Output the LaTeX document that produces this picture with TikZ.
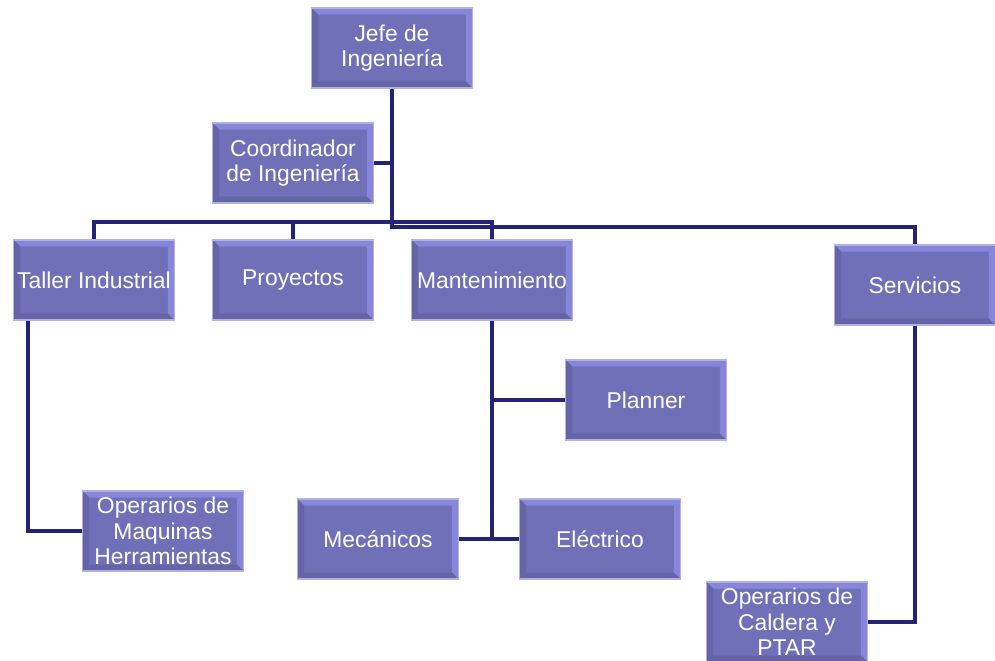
\documentclass[tikz,border=0pt]{standalone}
\usepackage{fontspec}
\setmainfont{Liberation Sans}
\usepackage{tikz}
\definecolor{boxfill}{RGB}{112,112,184}
\definecolor{bevlight}{RGB}{134,134,218}
\definecolor{bevdark}{RGB}{100,100,166}
\definecolor{boxedge}{RGB}{178,178,226}
\definecolor{linecol}{RGB}{35,35,120}
\tikzset{
	boxstyle/.style={rectangle,draw=boxedge,fill=boxfill,text=white,line width=0.8pt,
		minimum width=3.22cm,minimum height=1.6cm,inner sep=1pt,align=center,
		font=\fontsize{13}{14.4}\selectfont,
		path picture={
			\fill[bevlight] (path picture bounding box.north west)--(path picture bounding box.north east)
				--([shift={(-0.13cm,-0.13cm)}]path picture bounding box.north east)
				--([shift={(0.13cm,-0.13cm)}]path picture bounding box.north west)--cycle;
			\fill[bevlight] (path picture bounding box.north east)--(path picture bounding box.south east)
				--([shift={(-0.13cm,0.13cm)}]path picture bounding box.south east)
				--([shift={(-0.13cm,-0.13cm)}]path picture bounding box.north east)--cycle;
			\fill[bevdark] (path picture bounding box.south west)--(path picture bounding box.south east)
				--([shift={(-0.13cm,0.13cm)}]path picture bounding box.south east)
				--([shift={(0.13cm,0.13cm)}]path picture bounding box.south west)--cycle;
			\fill[bevdark] (path picture bounding box.north west)--(path picture bounding box.south west)
				--([shift={(0.13cm,0.13cm)}]path picture bounding box.south west)
				--([shift={(0.13cm,-0.13cm)}]path picture bounding box.north west)--cycle;
		}},
	linestyle/.style={draw=linecol,line width=2pt}
}
\begin{document}
\begin{tikzpicture}[x=0.02cm,y=-0.02cm]
	\useasboundingbox (0,0) rectangle (995,660);
	\clip (0,0) rectangle (995,660);
	\node[boxstyle] (jefe) at (392,48) {Jefe de\\Ingeniería};
	\node[boxstyle] (coord) at (293,163) {Coordinador\\de Ingeniería};
	\node[boxstyle] (taller) at (94,280) {Taller Industrial};
	\node[boxstyle] (proy) at (293,280) {Proyectos};
	\node[boxstyle] (mant) at (492,280) {Mantenimiento};
	\node[boxstyle] (serv) at (915,285) {Servicios};
	\node[boxstyle] (planner) at (646,400) {Planner};
	\node[boxstyle] (opmaq) at (163,531) {Operarios de\\Maquinas\\Herramientas};
	\node[boxstyle] (meca) at (378,539) {Mecánicos};
	\node[boxstyle] (elec) at (600,539) {Eléctrico};
	\node[boxstyle] (opcal) at (787,622) {Operarios de\\Caldera y\\PTAR};
	\coordinate (bus) at (293,222);
	\coordinate (busr) at (392,227);
	\draw[linestyle] (jefe.south)--(busr)-|(serv.north);
	\draw[linestyle] (coord.east)--(coord.east-|jefe.south);
	\draw[linestyle] (taller.north)|-(bus)-|(mant.north);
	\draw[linestyle] (proy.north)--(bus);
	\draw[linestyle] ([xshift=0.3cm]taller.south west)|-(opmaq.west);
	\draw[linestyle] (mant.south)|-(planner.west);
	\draw[linestyle] (mant.south)--(mant.south|-meca.east);
	\draw[linestyle] (meca.east)--(elec.west);
	\draw[linestyle] (serv.south)|-(opcal.east);
\end{tikzpicture}
\end{document}
